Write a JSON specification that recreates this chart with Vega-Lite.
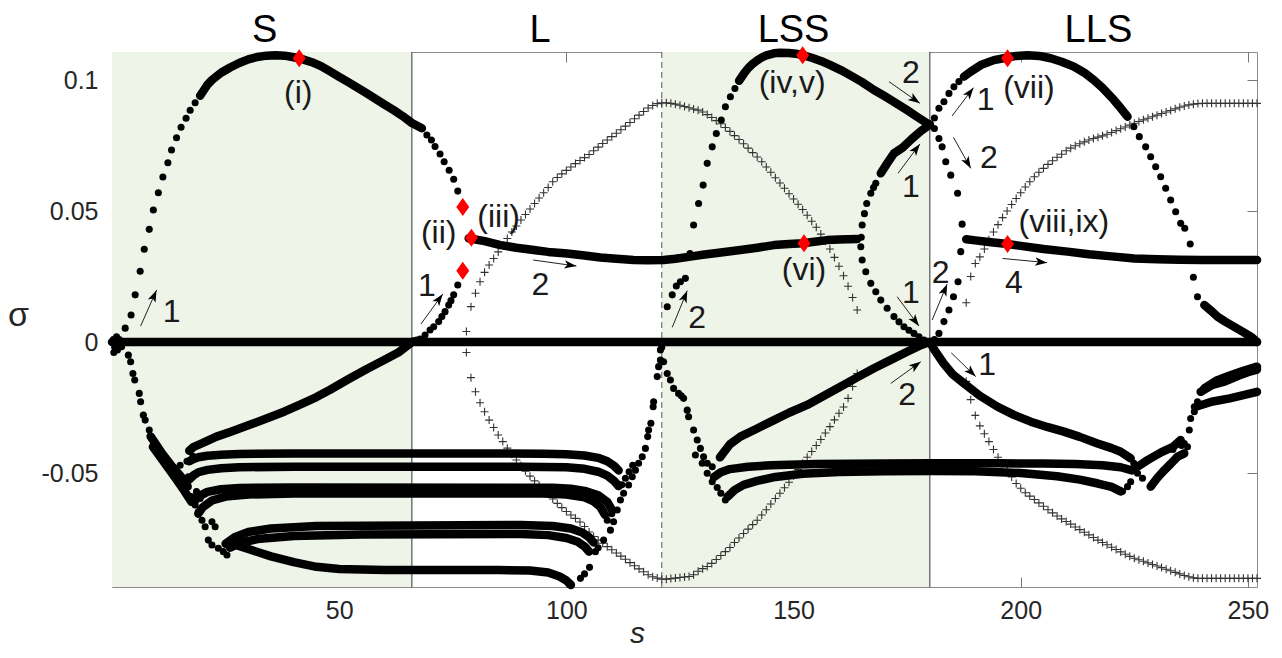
{
"$schema":"https://vega.github.io/schema/vega-lite/v6.json",
"width":1145,"height":535,
"autosize":{"type":"none"},
"padding":{"left":112,"top":52,"right":25,"bottom":71},
"background":"white",
"config":{"view":{"stroke":"#8a8a8a","strokeWidth":1},"font":"Liberation Sans",
"axis":{"grid":false,"domain":false,"tickColor":"#7a7a7a","tickSize":-10,"tickWidth":1,"labelFont":"Liberation Sans","labelFontSize":25,"labelColor":"#262626","labelFlush":false}},
"datasets":{
"bands":[{"a":0,"b":66},{"a":121,"b":180}],
"vsolid":[{"s":66},{"s":180}],
"vdash":[{"s":121}],
"cross":[
{"s":78,"sigma":0.004},{"s":79,"sigma":0.0135},{"s":80,"sigma":0.0186},{"s":81,"sigma":0.023},{"s":82,"sigma":0.0266},{"s":83,"sigma":0.0294},{"s":84,"sigma":0.0319},{"s":85,"sigma":0.0344},{"s":86,"sigma":0.0369},{"s":87,"sigma":0.0395},{"s":88,"sigma":0.042},{"s":89,"sigma":0.0443},{"s":90,"sigma":0.0466},{"s":91,"sigma":0.0487},{"s":92,"sigma":0.0508},{"s":93,"sigma":0.0529},{"s":94,"sigma":0.055},{"s":95,"sigma":0.057},{"s":96,"sigma":0.059},{"s":97,"sigma":0.0612},{"s":98,"sigma":0.0628},{"s":99,"sigma":0.0642},{"s":100,"sigma":0.0655},{"s":101,"sigma":0.0668},{"s":102,"sigma":0.0681},{"s":103,"sigma":0.0693},{"s":104,"sigma":0.0704},{"s":105,"sigma":0.0716},{"s":106,"sigma":0.073},{"s":107,"sigma":0.0744},{"s":108,"sigma":0.0758},{"s":109,"sigma":0.0771},{"s":110,"sigma":0.0784},{"s":111,"sigma":0.0797},{"s":112,"sigma":0.081},{"s":113,"sigma":0.0824},{"s":114,"sigma":0.0838},{"s":115,"sigma":0.0852},{"s":116,"sigma":0.0866},{"s":117,"sigma":0.088},{"s":118,"sigma":0.0893},{"s":119,"sigma":0.0903},{"s":120,"sigma":0.091},{"s":121,"sigma":0.0913},{"s":122,"sigma":0.0913},{"s":123,"sigma":0.0911},{"s":124,"sigma":0.0908},{"s":125,"sigma":0.0904},{"s":126,"sigma":0.0899},{"s":127,"sigma":0.0894},{"s":128,"sigma":0.0889},{"s":129,"sigma":0.0885},{"s":130,"sigma":0.0878},{"s":131,"sigma":0.0868},{"s":132,"sigma":0.0857},{"s":133,"sigma":0.0845},{"s":134,"sigma":0.0833},{"s":135,"sigma":0.0819},{"s":136,"sigma":0.0804},{"s":137,"sigma":0.0788},{"s":138,"sigma":0.0773},{"s":139,"sigma":0.0757},{"s":140,"sigma":0.074},{"s":141,"sigma":0.0723},{"s":142,"sigma":0.0706},{"s":143,"sigma":0.0688},{"s":144,"sigma":0.0668},{"s":145,"sigma":0.0648},{"s":146,"sigma":0.0627},{"s":147,"sigma":0.0607},{"s":148,"sigma":0.0587},{"s":149,"sigma":0.0566},{"s":150,"sigma":0.0546},{"s":151,"sigma":0.0526},{"s":152,"sigma":0.0506},{"s":153,"sigma":0.0484},{"s":154,"sigma":0.0461},{"s":155,"sigma":0.0438},{"s":156,"sigma":0.0412},{"s":157,"sigma":0.0385},{"s":158,"sigma":0.0355},{"s":159,"sigma":0.0323},{"s":160,"sigma":0.0289},{"s":161,"sigma":0.0253},{"s":162,"sigma":0.0213},{"s":163,"sigma":0.017},{"s":164,"sigma":0.0122},
{"s":78,"sigma":-0.004},{"s":79,"sigma":-0.0136},{"s":80,"sigma":-0.019},{"s":81,"sigma":-0.0232},{"s":82,"sigma":-0.0266},{"s":83,"sigma":-0.0298},{"s":84,"sigma":-0.0326},{"s":85,"sigma":-0.0355},{"s":86,"sigma":-0.038},{"s":87,"sigma":-0.0405},{"s":88,"sigma":-0.0428},{"s":89,"sigma":-0.045},{"s":90,"sigma":-0.0472},{"s":91,"sigma":-0.0493},{"s":92,"sigma":-0.0512},{"s":93,"sigma":-0.053},{"s":94,"sigma":-0.0547},{"s":95,"sigma":-0.0563},{"s":96,"sigma":-0.0578},{"s":97,"sigma":-0.0599},{"s":98,"sigma":-0.0616},{"s":99,"sigma":-0.0632},{"s":100,"sigma":-0.0647},{"s":101,"sigma":-0.066},{"s":102,"sigma":-0.0673},{"s":103,"sigma":-0.0687},{"s":104,"sigma":-0.0704},{"s":105,"sigma":-0.0725},{"s":106,"sigma":-0.0742},{"s":107,"sigma":-0.0756},{"s":108,"sigma":-0.0768},{"s":109,"sigma":-0.0781},{"s":110,"sigma":-0.0793},{"s":111,"sigma":-0.0805},{"s":112,"sigma":-0.0817},{"s":113,"sigma":-0.0829},{"s":114,"sigma":-0.0842},{"s":115,"sigma":-0.0854},{"s":116,"sigma":-0.0866},{"s":117,"sigma":-0.0877},{"s":118,"sigma":-0.0888},{"s":119,"sigma":-0.0896},{"s":120,"sigma":-0.0901},{"s":121,"sigma":-0.0905},{"s":122,"sigma":-0.0905},{"s":123,"sigma":-0.0903},{"s":124,"sigma":-0.0901},{"s":125,"sigma":-0.0899},{"s":126,"sigma":-0.0897},{"s":127,"sigma":-0.0895},{"s":128,"sigma":-0.0888},{"s":129,"sigma":-0.0875},{"s":130,"sigma":-0.0865},{"s":131,"sigma":-0.0857},{"s":132,"sigma":-0.0845},{"s":133,"sigma":-0.083},{"s":134,"sigma":-0.0815},{"s":135,"sigma":-0.08},{"s":136,"sigma":-0.0784},{"s":137,"sigma":-0.0765},{"s":138,"sigma":-0.0748},{"s":139,"sigma":-0.0731},{"s":140,"sigma":-0.0714},{"s":141,"sigma":-0.0697},{"s":142,"sigma":-0.068},{"s":143,"sigma":-0.066},{"s":144,"sigma":-0.064},{"s":145,"sigma":-0.0618},{"s":146,"sigma":-0.0597},{"s":147,"sigma":-0.0577},{"s":148,"sigma":-0.0556},{"s":149,"sigma":-0.0535},{"s":150,"sigma":-0.051},{"s":151,"sigma":-0.0487},{"s":152,"sigma":-0.0463},{"s":153,"sigma":-0.044},{"s":154,"sigma":-0.0418},{"s":155,"sigma":-0.0395},{"s":156,"sigma":-0.0372},{"s":157,"sigma":-0.0347},{"s":158,"sigma":-0.0323},{"s":159,"sigma":-0.0297},{"s":160,"sigma":-0.0272},{"s":161,"sigma":-0.0248},{"s":162,"sigma":-0.0215},{"s":163,"sigma":-0.017},{"s":164,"sigma":-0.012},
{"s":188,"sigma":0.015},{"s":189,"sigma":0.025},{"s":190,"sigma":0.03},{"s":191,"sigma":0.0325},{"s":192,"sigma":0.0355},{"s":193,"sigma":0.039},{"s":194,"sigma":0.042},{"s":195,"sigma":0.0448},{"s":196,"sigma":0.0475},{"s":197,"sigma":0.05},{"s":198,"sigma":0.0525},{"s":199,"sigma":0.0548},{"s":200,"sigma":0.057},{"s":201,"sigma":0.0592},{"s":202,"sigma":0.0612},{"s":203,"sigma":0.0631},{"s":204,"sigma":0.0648},{"s":205,"sigma":0.0663},{"s":206,"sigma":0.0678},{"s":207,"sigma":0.0692},{"s":208,"sigma":0.0705},{"s":209,"sigma":0.0717},{"s":210,"sigma":0.073},{"s":211,"sigma":0.074},{"s":212,"sigma":0.0749},{"s":213,"sigma":0.0757},{"s":214,"sigma":0.0764},{"s":215,"sigma":0.0771},{"s":216,"sigma":0.0777},{"s":217,"sigma":0.0782},{"s":218,"sigma":0.0787},{"s":219,"sigma":0.0793},{"s":220,"sigma":0.08},{"s":221,"sigma":0.0807},{"s":222,"sigma":0.0814},{"s":223,"sigma":0.0821},{"s":224,"sigma":0.0828},{"s":225,"sigma":0.0835},{"s":226,"sigma":0.0842},{"s":227,"sigma":0.0848},{"s":228,"sigma":0.0854},{"s":229,"sigma":0.086},{"s":230,"sigma":0.0866},{"s":231,"sigma":0.0872},{"s":232,"sigma":0.0878},{"s":233,"sigma":0.0884},{"s":234,"sigma":0.089},{"s":235,"sigma":0.0896},{"s":236,"sigma":0.0901},{"s":237,"sigma":0.0905},{"s":238,"sigma":0.0908},{"s":239,"sigma":0.091},{"s":240,"sigma":0.0911},{"s":241,"sigma":0.0911},{"s":242,"sigma":0.0911},{"s":243,"sigma":0.0911},{"s":244,"sigma":0.0911},{"s":245,"sigma":0.0911},{"s":246,"sigma":0.0911},{"s":247,"sigma":0.0911},{"s":248,"sigma":0.0911},{"s":249,"sigma":0.0911},{"s":250,"sigma":0.0911},{"s":251,"sigma":0.0911},{"s":252,"sigma":0.0911},
{"s":188,"sigma":-0.015},{"s":189,"sigma":-0.022},{"s":190,"sigma":-0.028},{"s":191,"sigma":-0.032},{"s":192,"sigma":-0.035},{"s":193,"sigma":-0.038},{"s":194,"sigma":-0.041},{"s":195,"sigma":-0.044},{"s":196,"sigma":-0.0465},{"s":197,"sigma":-0.049},{"s":198,"sigma":-0.0515},{"s":199,"sigma":-0.054},{"s":200,"sigma":-0.0558},{"s":201,"sigma":-0.0575},{"s":202,"sigma":-0.0588},{"s":203,"sigma":-0.0601},{"s":204,"sigma":-0.0614},{"s":205,"sigma":-0.0627},{"s":206,"sigma":-0.064},{"s":207,"sigma":-0.0652},{"s":208,"sigma":-0.0664},{"s":209,"sigma":-0.0675},{"s":210,"sigma":-0.0685},{"s":211,"sigma":-0.0695},{"s":212,"sigma":-0.0706},{"s":213,"sigma":-0.0716},{"s":214,"sigma":-0.0726},{"s":215,"sigma":-0.0736},{"s":216,"sigma":-0.0746},{"s":217,"sigma":-0.0756},{"s":218,"sigma":-0.0765},{"s":219,"sigma":-0.0774},{"s":220,"sigma":-0.0783},{"s":221,"sigma":-0.0792},{"s":222,"sigma":-0.0801},{"s":223,"sigma":-0.081},{"s":224,"sigma":-0.0818},{"s":225,"sigma":-0.0825},{"s":226,"sigma":-0.0831},{"s":227,"sigma":-0.0837},{"s":228,"sigma":-0.0843},{"s":229,"sigma":-0.0849},{"s":230,"sigma":-0.0855},{"s":231,"sigma":-0.0861},{"s":232,"sigma":-0.0867},{"s":233,"sigma":-0.0873},{"s":234,"sigma":-0.0879},{"s":235,"sigma":-0.0885},{"s":236,"sigma":-0.0891},{"s":237,"sigma":-0.0896},{"s":238,"sigma":-0.09},{"s":239,"sigma":-0.0902},{"s":240,"sigma":-0.0902},{"s":241,"sigma":-0.0902},{"s":242,"sigma":-0.0902},{"s":243,"sigma":-0.0902},{"s":244,"sigma":-0.0902},{"s":245,"sigma":-0.0902},{"s":246,"sigma":-0.0902},{"s":247,"sigma":-0.0902},{"s":248,"sigma":-0.0902},{"s":249,"sigma":-0.0902},{"s":250,"sigma":-0.0902},{"s":251,"sigma":-0.0902},{"s":252,"sigma":-0.0902}
],
"curves":[
{"id":"zero","s":0,"sigma":0},{"id":"zero","s":252,"sigma":0},
{"id":"A","s":19.4,"sigma":0.094},{"id":"A","s":21,"sigma":0.0982},{"id":"A","s":22,"sigma":0.1},{"id":"A","s":24,"sigma":0.1028},{"id":"A","s":26,"sigma":0.1048},{"id":"A","s":28,"sigma":0.1065},{"id":"A","s":30,"sigma":0.1079},{"id":"A","s":32,"sigma":0.1088},{"id":"A","s":34,"sigma":0.1093},{"id":"A","s":36,"sigma":0.1095},{"id":"A","s":38,"sigma":0.1093},{"id":"A","s":40,"sigma":0.1087},{"id":"A","s":42,"sigma":0.1079},{"id":"A","s":44,"sigma":0.1068},{"id":"A","s":46,"sigma":0.1053},{"id":"A","s":48,"sigma":0.1033},{"id":"A","s":50,"sigma":0.1012},{"id":"A","s":52,"sigma":0.0992},{"id":"A","s":54,"sigma":0.0971},{"id":"A","s":56,"sigma":0.095},{"id":"A","s":58,"sigma":0.0928},{"id":"A","s":60,"sigma":0.0906},{"id":"A","s":62,"sigma":0.0885},{"id":"A","s":64,"sigma":0.0862},{"id":"A","s":66,"sigma":0.0836},{"id":"A","s":68.2,"sigma":0.0816},
{"id":"Bn","s":17,"sigma":-0.0415},{"id":"Bn","s":18,"sigma":-0.04},{"id":"Bn","s":20,"sigma":-0.0385},{"id":"Bn","s":23,"sigma":-0.0361},{"id":"Bn","s":26,"sigma":-0.0343},{"id":"Bn","s":30,"sigma":-0.0318},{"id":"Bn","s":34,"sigma":-0.0292},{"id":"Bn","s":38,"sigma":-0.0265},{"id":"Bn","s":42,"sigma":-0.0234},{"id":"Bn","s":45,"sigma":-0.021},{"id":"Bn","s":48,"sigma":-0.0182},{"id":"Bn","s":52,"sigma":-0.0142},{"id":"Bn","s":56,"sigma":-0.0104},{"id":"Bn","s":60,"sigma":-0.0068},{"id":"Bn","s":63,"sigma":-0.004},{"id":"Bn","s":66,"sigma":0},{"id":"Bn","s":67,"sigma":0.0005},
{"id":"fA","s":8.5,"sigma":-0.036},{"id":"fA","s":11,"sigma":-0.0425},{"id":"fA","s":13,"sigma":-0.047},{"id":"fA","s":15,"sigma":-0.051},{"id":"fA","s":16.5,"sigma":-0.0545},
{"id":"fB","s":9,"sigma":-0.04},{"id":"fB","s":11.5,"sigma":-0.046},{"id":"fB","s":14,"sigma":-0.052},{"id":"fB","s":16,"sigma":-0.057},{"id":"fB","s":17.5,"sigma":-0.061},
{"id":"c1","s":17,"sigma":-0.0455},{"id":"c1","s":18,"sigma":-0.0446},{"id":"c1","s":19,"sigma":-0.044},{"id":"c1","s":21,"sigma":-0.0434},{"id":"c1","s":24,"sigma":-0.043},{"id":"c1","s":28,"sigma":-0.0427},{"id":"c1","s":40,"sigma":-0.0425},{"id":"c1","s":80,"sigma":-0.0425},{"id":"c1","s":95,"sigma":-0.0426},{"id":"c1","s":100,"sigma":-0.0428},{"id":"c1","s":104,"sigma":-0.0433},{"id":"c1","s":107,"sigma":-0.0442},{"id":"c1","s":109,"sigma":-0.0455},{"id":"c1","s":110.5,"sigma":-0.0472},{"id":"c1","s":111.5,"sigma":-0.049},
{"id":"c2","s":17,"sigma":-0.0525},{"id":"c2","s":18,"sigma":-0.0508},{"id":"c2","s":19,"sigma":-0.0497},{"id":"c2","s":21,"sigma":-0.0488},{"id":"c2","s":24,"sigma":-0.0482},{"id":"c2","s":28,"sigma":-0.0478},{"id":"c2","s":40,"sigma":-0.0476},{"id":"c2","s":90,"sigma":-0.0476},{"id":"c2","s":100,"sigma":-0.0478},{"id":"c2","s":104,"sigma":-0.0484},{"id":"c2","s":107,"sigma":-0.0495},{"id":"c2","s":109,"sigma":-0.051},{"id":"c2","s":110.5,"sigma":-0.053},{"id":"c2","s":111.5,"sigma":-0.055},
{"id":"c3","s":18,"sigma":-0.061},{"id":"c3","s":19,"sigma":-0.059},{"id":"c3","s":21,"sigma":-0.0572},{"id":"c3","s":24,"sigma":-0.0562},{"id":"c3","s":28,"sigma":-0.0557},{"id":"c3","s":40,"sigma":-0.0555},{"id":"c3","s":97,"sigma":-0.0556},{"id":"c3","s":101,"sigma":-0.056},{"id":"c3","s":104,"sigma":-0.0568},{"id":"c3","s":107,"sigma":-0.0585},{"id":"c3","s":109,"sigma":-0.061},{"id":"c3","s":110,"sigma":-0.064},
{"id":"c4","s":19,"sigma":-0.0655},{"id":"c4","s":20,"sigma":-0.063},{"id":"c4","s":22,"sigma":-0.0605},{"id":"c4","s":25,"sigma":-0.059},{"id":"c4","s":30,"sigma":-0.0582},{"id":"c4","s":40,"sigma":-0.0578},{"id":"c4","s":95,"sigma":-0.0578},{"id":"c4","s":100,"sigma":-0.0582},{"id":"c4","s":104,"sigma":-0.0593},{"id":"c4","s":106,"sigma":-0.0608},{"id":"c4","s":107.5,"sigma":-0.063},{"id":"c4","s":108.5,"sigma":-0.066},
{"id":"c5","s":25,"sigma":-0.077},{"id":"c5","s":27,"sigma":-0.0745},{"id":"c5","s":30,"sigma":-0.0725},{"id":"c5","s":35,"sigma":-0.0712},{"id":"c5","s":45,"sigma":-0.0702},{"id":"c5","s":90,"sigma":-0.0698},{"id":"c5","s":97,"sigma":-0.0702},{"id":"c5","s":101,"sigma":-0.0712},{"id":"c5","s":103.5,"sigma":-0.0727},{"id":"c5","s":105,"sigma":-0.0745},{"id":"c5","s":106,"sigma":-0.0765},
{"id":"c6","s":26,"sigma":-0.0785},{"id":"c6","s":28,"sigma":-0.0768},{"id":"c6","s":32,"sigma":-0.0752},{"id":"c6","s":40,"sigma":-0.074},{"id":"c6","s":55,"sigma":-0.0735},{"id":"c6","s":90,"sigma":-0.0733},{"id":"c6","s":96,"sigma":-0.0737},{"id":"c6","s":100,"sigma":-0.0748},{"id":"c6","s":102.5,"sigma":-0.0762},{"id":"c6","s":104,"sigma":-0.078},{"id":"c6","s":105,"sigma":-0.08},
{"id":"c7","s":26,"sigma":-0.0768},{"id":"c7","s":30,"sigma":-0.079},{"id":"c7","s":35,"sigma":-0.0818},{"id":"c7","s":40,"sigma":-0.084},{"id":"c7","s":45,"sigma":-0.0858},{"id":"c7","s":50,"sigma":-0.0866},{"id":"c7","s":60,"sigma":-0.087},{"id":"c7","s":85,"sigma":-0.087},{"id":"c7","s":92,"sigma":-0.0872},{"id":"c7","s":96,"sigma":-0.088},{"id":"c7","s":98.5,"sigma":-0.0895},{"id":"c7","s":100,"sigma":-0.091},{"id":"c7","s":101,"sigma":-0.0927},
{"id":"iii","s":78.5,"sigma":0.0396},{"id":"iii","s":82,"sigma":0.0385},{"id":"iii","s":85.5,"sigma":0.037},{"id":"iii","s":89,"sigma":0.036},{"id":"iii","s":92.8,"sigma":0.0351},{"id":"iii","s":96,"sigma":0.0344},{"id":"iii","s":100.2,"sigma":0.0338},{"id":"iii","s":104,"sigma":0.033},{"id":"iii","s":107.5,"sigma":0.0323},{"id":"iii","s":111,"sigma":0.0318},{"id":"iii","s":114.8,"sigma":0.0313},{"id":"iii","s":118,"sigma":0.0312},{"id":"iii","s":121.4,"sigma":0.0313},{"id":"iii","s":124,"sigma":0.0318},{"id":"iii","s":127.3,"sigma":0.0326},{"id":"iii","s":130,"sigma":0.0333},{"id":"iii","s":134,"sigma":0.0342},{"id":"iii","s":138.3,"sigma":0.0351},{"id":"iii","s":142,"sigma":0.036},{"id":"iii","s":145.7,"sigma":0.037},{"id":"iii","s":149,"sigma":0.0374},{"id":"iii","s":152,"sigma":0.0377},{"id":"iii","s":155,"sigma":0.0384},{"id":"iii","s":157.4,"sigma":0.0389},{"id":"iii","s":160,"sigma":0.0391},{"id":"iii","s":164,"sigma":0.0393},
{"id":"A2","s":138,"sigma":0.0997},{"id":"A2","s":139.1,"sigma":0.1025},{"id":"A2","s":140,"sigma":0.1045},{"id":"A2","s":141,"sigma":0.1062},{"id":"A2","s":142,"sigma":0.1075},{"id":"A2","s":143,"sigma":0.1086},{"id":"A2","s":144,"sigma":0.1094},{"id":"A2","s":145.7,"sigma":0.1102},{"id":"A2","s":147,"sigma":0.1104},{"id":"A2","s":149,"sigma":0.1103},{"id":"A2","s":151,"sigma":0.1099},{"id":"A2","s":152,"sigma":0.1095},{"id":"A2","s":154,"sigma":0.1085},{"id":"A2","s":156,"sigma":0.1073},{"id":"A2","s":158,"sigma":0.1058},{"id":"A2","s":160.4,"sigma":0.1038},{"id":"A2","s":163,"sigma":0.1013},{"id":"A2","s":165,"sigma":0.0993},{"id":"A2","s":167.7,"sigma":0.0962},{"id":"A2","s":170,"sigma":0.0939},{"id":"A2","s":172,"sigma":0.0918},{"id":"A2","s":175,"sigma":0.0885},{"id":"A2","s":177,"sigma":0.0862},{"id":"A2","s":179.4,"sigma":0.0835},{"id":"A2","s":180,"sigma":0.083},
{"id":"Cup","s":169.2,"sigma":0.0644},{"id":"Cup","s":170.6,"sigma":0.0682},{"id":"Cup","s":172.1,"sigma":0.072},{"id":"Cup","s":174,"sigma":0.0742},{"id":"Cup","s":176,"sigma":0.0775},{"id":"Cup","s":178,"sigma":0.0805},{"id":"Cup","s":180,"sigma":0.083},
{"id":"Rn","s":133.8,"sigma":-0.044},{"id":"Rn","s":136,"sigma":-0.039},{"id":"Rn","s":138.3,"sigma":-0.0361},{"id":"Rn","s":142,"sigma":-0.033},{"id":"Rn","s":145.7,"sigma":-0.0298},{"id":"Rn","s":149,"sigma":-0.027},{"id":"Rn","s":153,"sigma":-0.024},{"id":"Rn","s":156.7,"sigma":-0.0205},{"id":"Rn","s":160.4,"sigma":-0.017},{"id":"Rn","s":164,"sigma":-0.0135},{"id":"Rn","s":167.7,"sigma":-0.01},{"id":"Rn","s":171.4,"sigma":-0.0068},{"id":"Rn","s":175,"sigma":-0.0037},{"id":"Rn","s":178,"sigma":-0.0012},{"id":"Rn","s":180,"sigma":0},
{"id":"Ub","s":132.5,"sigma":-0.0515},{"id":"Ub","s":134,"sigma":-0.0497},{"id":"Ub","s":136,"sigma":-0.0485},{"id":"Ub","s":140,"sigma":-0.0476},{"id":"Ub","s":145,"sigma":-0.047},{"id":"Ub","s":155,"sigma":-0.0466},{"id":"Ub","s":170,"sigma":-0.0464},{"id":"Ub","s":180,"sigma":-0.0463},{"id":"Ub","s":195,"sigma":-0.0463},{"id":"Ub","s":205,"sigma":-0.0464},{"id":"Ub","s":212,"sigma":-0.0466},{"id":"Ub","s":218,"sigma":-0.047},{"id":"Ub","s":222,"sigma":-0.0478},{"id":"Ub","s":224.5,"sigma":-0.049},
{"id":"Lb","s":135.5,"sigma":-0.059},{"id":"Lb","s":137,"sigma":-0.0565},{"id":"Lb","s":139,"sigma":-0.0545},{"id":"Lb","s":142,"sigma":-0.053},{"id":"Lb","s":146,"sigma":-0.0515},{"id":"Lb","s":152,"sigma":-0.0503},{"id":"Lb","s":160,"sigma":-0.0496},{"id":"Lb","s":170,"sigma":-0.0493},{"id":"Lb","s":180,"sigma":-0.0492},{"id":"Lb","s":190,"sigma":-0.0493},{"id":"Lb","s":200,"sigma":-0.05},{"id":"Lb","s":208,"sigma":-0.0512},{"id":"Lb","s":213,"sigma":-0.0525},{"id":"Lb","s":217,"sigma":-0.054},{"id":"Lb","s":220,"sigma":-0.0553},{"id":"Lb","s":222,"sigma":-0.057},
{"id":"Dn","s":180,"sigma":0},{"id":"Dn","s":181,"sigma":-0.003},{"id":"Dn","s":183,"sigma":-0.0081},{"id":"Dn","s":185,"sigma":-0.0123},{"id":"Dn","s":187.5,"sigma":-0.0158},{"id":"Dn","s":191,"sigma":-0.0205},{"id":"Dn","s":194.9,"sigma":-0.0247},{"id":"Dn","s":198.5,"sigma":-0.0278},{"id":"Dn","s":202.2,"sigma":-0.0304},{"id":"Dn","s":206,"sigma":-0.0325},{"id":"Dn","s":209.5,"sigma":-0.0342},{"id":"Dn","s":213,"sigma":-0.0362},{"id":"Dn","s":216.9,"sigma":-0.0387},{"id":"Dn","s":220,"sigma":-0.0405},{"id":"Dn","s":222,"sigma":-0.0419},{"id":"Dn","s":224.2,"sigma":-0.0444},
{"id":"A3","s":187.5,"sigma":0.1013},{"id":"A3","s":189,"sigma":0.1032},{"id":"A3","s":191.2,"sigma":0.1057},{"id":"A3","s":194.1,"sigma":0.1076},{"id":"A3","s":197.1,"sigma":0.1086},{"id":"A3","s":199,"sigma":0.1092},{"id":"A3","s":201.5,"sigma":0.1095},{"id":"A3","s":204,"sigma":0.1092},{"id":"A3","s":206.6,"sigma":0.1083},{"id":"A3","s":209,"sigma":0.107},{"id":"A3","s":211.7,"sigma":0.1051},{"id":"A3","s":214,"sigma":0.1028},{"id":"A3","s":216.1,"sigma":0.1},{"id":"A3","s":218,"sigma":0.097},{"id":"A3","s":220.5,"sigma":0.0924},{"id":"A3","s":222,"sigma":0.0893},{"id":"A3","s":223.5,"sigma":0.086},
{"id":"Tl","s":240.4,"sigma":0.0141},{"id":"Tl","s":242,"sigma":0.0118},{"id":"Tl","s":243.3,"sigma":0.0097},{"id":"Tl","s":245,"sigma":0.0078},{"id":"Tl","s":247,"sigma":0.0058},{"id":"Tl","s":249,"sigma":0.0038},{"id":"Tl","s":250.7,"sigma":0.002},{"id":"Tl","s":252,"sigma":0},
{"id":"viii","s":188,"sigma":0.0392},{"id":"viii","s":190,"sigma":0.0388},{"id":"viii","s":193,"sigma":0.0382},{"id":"viii","s":197.1,"sigma":0.0374},{"id":"viii","s":200,"sigma":0.0367},{"id":"viii","s":205,"sigma":0.0355},{"id":"viii","s":210.3,"sigma":0.0345},{"id":"viii","s":215,"sigma":0.0335},{"id":"viii","s":220,"sigma":0.0327},{"id":"viii","s":225,"sigma":0.0319},{"id":"viii","s":230,"sigma":0.0316},{"id":"viii","s":235,"sigma":0.0314},{"id":"viii","s":240,"sigma":0.0313},{"id":"viii","s":252,"sigma":0.0313},
{"id":"R2","s":228.6,"sigma":-0.0552},{"id":"R2","s":230,"sigma":-0.052},{"id":"R2","s":231.6,"sigma":-0.0489},{"id":"R2","s":233,"sigma":-0.0465},{"id":"R2","s":234.5,"sigma":-0.0438},{"id":"R2","s":236,"sigma":-0.0425},
{"id":"R3","s":225.7,"sigma":-0.0476},{"id":"R3","s":228,"sigma":-0.045},{"id":"R3","s":231,"sigma":-0.042},{"id":"R3","s":233.5,"sigma":-0.04},{"id":"R3","s":235.2,"sigma":-0.0374},
{"id":"E1","s":239.6,"sigma":-0.019},{"id":"E1","s":242,"sigma":-0.0165},{"id":"E1","s":245,"sigma":-0.015},{"id":"E1","s":248,"sigma":-0.0128},{"id":"E1","s":250,"sigma":-0.0115},{"id":"E1","s":252,"sigma":-0.0105},
{"id":"E2","s":240.4,"sigma":-0.0177},{"id":"E2","s":243,"sigma":-0.0148},{"id":"E2","s":246,"sigma":-0.0128},{"id":"E2","s":249,"sigma":-0.011},{"id":"E2","s":252,"sigma":-0.0094},
{"id":"E3","s":238.9,"sigma":-0.0245},{"id":"E3","s":242,"sigma":-0.0228},{"id":"E3","s":246,"sigma":-0.0215},{"id":"E3","s":249,"sigma":-0.0203},{"id":"E3","s":252,"sigma":-0.019}
],
"dots":[
{"s":0.3,"sigma":0.001},{"s":0.6,"sigma":-0.002},{"s":1.0,"sigma":0.002},{"s":1.2,"sigma":-0.003},{"s":1.6,"sigma":0.001},{"s":0.4,"sigma":-0.004},{"s":2.0,"sigma":-0.001},
{"s":2.9,"sigma":0.0053},{"s":4.2,"sigma":0.0103},{"s":5.1,"sigma":0.018},{"s":6.2,"sigma":0.027},{"s":7.1,"sigma":0.0354},{"s":8.2,"sigma":0.043},{"s":9.1,"sigma":0.0504},{"s":10.2,"sigma":0.057},{"s":11.2,"sigma":0.063},{"s":12.3,"sigma":0.0684},{"s":13.1,"sigma":0.0733},{"s":14.2,"sigma":0.078},{"s":15.2,"sigma":0.082},{"s":16.3,"sigma":0.0854},{"s":17.2,"sigma":0.0885},{"s":18.3,"sigma":0.0913},
{"s":69.3,"sigma":0.079},{"s":70.3,"sigma":0.0771},{"s":71.1,"sigma":0.0746},{"s":72.2,"sigma":0.0718},{"s":73.1,"sigma":0.0688},{"s":74.2,"sigma":0.0656},{"s":75.2,"sigma":0.0621},{"s":76.1,"sigma":0.0576},
{"s":67.8,"sigma":0.0011},{"s":68.9,"sigma":0.0027},{"s":70,"sigma":0.0046},{"s":70.8,"sigma":0.0058},{"s":71.9,"sigma":0.0078},{"s":72.6,"sigma":0.0097},{"s":73.3,"sigma":0.0116},{"s":74.1,"sigma":0.0141},{"s":74.6,"sigma":0.0158},{"s":75.2,"sigma":0.018},{"s":76.1,"sigma":0.0218},
{"s":2.1,"sigma":-0.0018},{"s":3.6,"sigma":-0.005},{"s":4.1,"sigma":-0.0075},{"s":4.6,"sigma":-0.012},{"s":5,"sigma":-0.0145},{"s":6,"sigma":-0.0196},{"s":6.3,"sigma":-0.0228},{"s":6.9,"sigma":-0.0279},{"s":7.3,"sigma":-0.0298},{"s":8.2,"sigma":-0.0336},{"s":8.5,"sigma":-0.0361},{"s":9.1,"sigma":-0.0393},
{"s":16.8,"sigma":-0.0552},{"s":17.5,"sigma":-0.059},{"s":18.3,"sigma":-0.0622},{"s":19,"sigma":-0.0648},{"s":19.8,"sigma":-0.068},{"s":20.5,"sigma":-0.0705},{"s":21.2,"sigma":-0.0756},{"s":22,"sigma":-0.0775},{"s":23.4,"sigma":-0.0787},{"s":24.5,"sigma":-0.08},{"s":25.3,"sigma":-0.0813},
{"s":15,"sigma":-0.047},{"s":16.8,"sigma":-0.0514},{"s":18.6,"sigma":-0.0571},{"s":19.4,"sigma":-0.0597},{"s":22,"sigma":-0.0686},{"s":22.7,"sigma":-0.0705},{"s":17.8,"sigma":-0.0436},{"s":16.5,"sigma":-0.0455},
{"s":100.9,"sigma":-0.0927},{"s":103.1,"sigma":-0.0902},{"s":105.1,"sigma":-0.086},{"s":106.4,"sigma":-0.08},{"s":108.2,"sigma":-0.0756},{"s":109.7,"sigma":-0.0718},{"s":110.4,"sigma":-0.0686},{"s":111.2,"sigma":-0.0641},{"s":111.9,"sigma":-0.0603},{"s":112.6,"sigma":-0.0577},{"s":113.7,"sigma":-0.0546},{"s":114.5,"sigma":-0.0514},{"s":115.2,"sigma":-0.0489},{"s":115.9,"sigma":-0.0463},{"s":116.7,"sigma":-0.0438},{"s":117.4,"sigma":-0.0406},{"s":117.9,"sigma":-0.0361},{"s":118.1,"sigma":-0.0336},{"s":119.1,"sigma":-0.0247},{"s":119.2,"sigma":-0.0228},{"s":120,"sigma":-0.0132},{"s":120.3,"sigma":-0.0094},{"s":120.7,"sigma":-0.0069},
{"s":112.2,"sigma":-0.0545},{"s":113,"sigma":-0.052},{"s":113.8,"sigma":-0.0495},{"s":114.6,"sigma":-0.047},{"s":109,"sigma":-0.068},{"s":110,"sigma":-0.0655},{"s":107,"sigma":-0.0785},{"s":104,"sigma":-0.0885},{"s":118.6,"sigma":-0.031},{"s":120.7,"sigma":-0.003},{"s":121,"sigma":-0.002},
{"s":121.4,"sigma":-0.0075},{"s":122.2,"sigma":-0.012},{"s":122.9,"sigma":-0.0145},{"s":123.6,"sigma":-0.0177},{"s":124.7,"sigma":-0.0196},{"s":125.3,"sigma":-0.0205},{"s":125.8,"sigma":-0.0215},{"s":126.6,"sigma":-0.026},{"s":126.9,"sigma":-0.0285},{"s":128,"sigma":-0.0336},{"s":128.8,"sigma":-0.0374},{"s":129.5,"sigma":-0.0406},{"s":130.2,"sigma":-0.0438},{"s":131,"sigma":-0.0463},{"s":132.1,"sigma":-0.0476},{"s":128.4,"sigma":-0.0431},{"s":129.9,"sigma":-0.0463},{"s":131,"sigma":-0.0501},{"s":132.1,"sigma":-0.0533},{"s":134,"sigma":-0.0577},{"s":135,"sigma":-0.0603},{"s":133.2,"sigma":-0.0555},
{"s":122.2,"sigma":0.0135},{"s":123.3,"sigma":0.018},{"s":124.2,"sigma":0.0214},{"s":125.1,"sigma":0.023},{"s":126.2,"sigma":0.0243},
{"s":127.2,"sigma":0.0338},{"s":128,"sigma":0.0447},{"s":129.1,"sigma":0.0529},{"s":130.1,"sigma":0.0599},{"s":131,"sigma":0.0682},{"s":132.1,"sigma":0.0745},{"s":133,"sigma":0.0796},{"s":134.1,"sigma":0.0847},{"s":135,"sigma":0.0898},{"s":136.1,"sigma":0.0936},{"s":137.1,"sigma":0.0968},
{"s":168.1,"sigma":0.0606},{"s":167.6,"sigma":0.059},{"s":167,"sigma":0.0568},{"s":166.1,"sigma":0.0529},{"s":165.6,"sigma":0.049},{"s":165.1,"sigma":0.0447},{"s":164.9,"sigma":0.04},{"s":164.8,"sigma":0.0364},{"s":165.1,"sigma":0.0313},{"s":165.9,"sigma":0.0268},{"s":167,"sigma":0.0224},{"s":168.1,"sigma":0.0192},{"s":169.2,"sigma":0.016},{"s":170.6,"sigma":0.0129},{"s":172.1,"sigma":0.0097},{"s":173.2,"sigma":0.0077},{"s":174.3,"sigma":0.0058},{"s":175.4,"sigma":0.0045},{"s":176.5,"sigma":0.0033},{"s":177.6,"sigma":0.002},{"s":178.7,"sigma":0.0008},
{"s":181,"sigma":0.0815},{"s":182,"sigma":0.0777},{"s":182.7,"sigma":0.0745},{"s":183.5,"sigma":0.0688},{"s":184.6,"sigma":0.0637},{"s":186.1,"sigma":0.0568},{"s":187.1,"sigma":0.045},{"s":186.8,"sigma":0.0345},{"s":186.2,"sigma":0.023},{"s":185.2,"sigma":0.0173},{"s":184.2,"sigma":0.0122},{"s":183.1,"sigma":0.0078},{"s":182,"sigma":0.0033},{"s":181,"sigma":0.001},
{"s":181,"sigma":0.0855},{"s":182,"sigma":0.0892},{"s":183.1,"sigma":0.0917},{"s":184.2,"sigma":0.0949},{"s":185.3,"sigma":0.0974},{"s":186.4,"sigma":0.0994},
{"s":224.9,"sigma":0.0822},{"s":226.1,"sigma":0.0784},{"s":227.5,"sigma":0.0745},{"s":228.6,"sigma":0.0707},{"s":229.7,"sigma":0.0669},{"s":230.8,"sigma":0.0631},{"s":231.9,"sigma":0.0587},{"s":233,"sigma":0.0542},{"s":234.1,"sigma":0.0497},{"s":235.2,"sigma":0.0453},{"s":236.1,"sigma":0.0434},{"s":237.3,"sigma":0.0374},{"s":238,"sigma":0.0247},{"s":238.9,"sigma":0.0173},
{"s":224.9,"sigma":-0.0463},{"s":225.7,"sigma":-0.0501},{"s":226.8,"sigma":-0.052},{"s":222.4,"sigma":-0.057},{"s":223.5,"sigma":-0.0552},{"s":224.2,"sigma":-0.0533},{"s":236.7,"sigma":-0.04},{"s":237.1,"sigma":-0.0336},{"s":237.4,"sigma":-0.0292},{"s":238.2,"sigma":-0.0266},{"s":238.2,"sigma":-0.0247},{"s":238.9,"sigma":-0.0228},{"s":236,"sigma":-0.0387},{"s":233.5,"sigma":-0.041},{"s":235.4,"sigma":-0.0395}
],
"marks":[{"s":41.2,"sigma":0.1083},{"s":77.2,"sigma":0.0515},{"s":79.1,"sigma":0.0398},{"s":77.2,"sigma":0.0272},{"s":152,"sigma":0.1095},{"s":152.3,"sigma":0.0377},{"s":197.1,"sigma":0.1083},{"s":197.1,"sigma":0.0374}],
"arrows":[
{"s":6.3,"sigma":0.0061,"s2":9.8,"sigma2":0.0198},
{"s":68,"sigma":0.0069,"s2":72.8,"sigma2":0.0183},
{"s":92.7,"sigma":0.0313,"s2":102.2,"sigma2":0.029},
{"s":123.3,"sigma":0.0056,"s2":126.6,"sigma2":0.0196},
{"s":171,"sigma":0.0994,"s2":177.8,"sigma2":0.0911},
{"s":173,"sigma":0.0644,"s2":177.8,"sigma2":0.0756},
{"s":172.8,"sigma":0.0173,"s2":177.6,"sigma2":0.0061},
{"s":171.4,"sigma":-0.0158,"s2":178,"sigma2":-0.0075},
{"s":180.5,"sigma":0.0084,"s2":183.8,"sigma2":0.0221},
{"s":184.9,"sigma":0.0863,"s2":189.6,"sigma2":0.0971},
{"s":185.2,"sigma":0.0781,"s2":189,"sigma2":0.0663},
{"s":196,"sigma":0.0319,"s2":205.8,"sigma2":0.0303},
{"s":184.7,"sigma":-0.0041,"s2":190.1,"sigma2":-0.0132}
],
"titles":[{"s":33.6,"sigma":0.1188,"t":"S"},{"s":94.2,"sigma":0.1188,"t":"L"},{"s":150,"sigma":0.1188,"t":"LSS"},{"s":217.1,"sigma":0.1188,"t":"LLS"}],
"romans":[{"s":41,"sigma":0.0949,"t":"(i)"},{"s":71.9,"sigma":0.0415,"t":"(ii)"},{"s":85.1,"sigma":0.0478,"t":"(iii)"},{"s":149.7,"sigma":0.0987,"t":"(iv,v)"},{"s":152.3,"sigma":0.0275,"t":"(vi)"},{"s":201.8,"sigma":0.0969,"t":"(vii)"},{"s":209.5,"sigma":0.0459,"t":"(viii,ix)"}],
"nums":[{"s":13.1,"sigma":0.0116,"t":"1"},{"s":69.3,"sigma":0.0214,"t":"1"},{"s":94.3,"sigma":0.0218,"t":"2"},{"s":128.8,"sigma":0.009,"t":"2"},{"s":175.8,"sigma":0.1026,"t":"2"},{"s":175.8,"sigma":0.0593,"t":"1"},{"s":175.8,"sigma":0.0186,"t":"1"},{"s":175,"sigma":-0.0202,"t":"2"},{"s":192.6,"sigma":-0.0088,"t":"1"},{"s":182.4,"sigma":0.0262,"t":"2"},{"s":192.3,"sigma":0.0924,"t":"1"},{"s":193,"sigma":0.0701,"t":"2"},{"s":198.5,"sigma":0.0224,"t":"4"}]
},
"resolve":{"axis":{"x":"independent","y":"independent"}},
"layer":[
{"data":{"name":"bands"},"mark":{"type":"rect","color":"#eef4e8"},
 "encoding":{"x":{"field":"a","type":"quantitative","scale":{"domain":[0,252],"nice":false,"zero":false},
   "axis":{"orient":"bottom","values":[50,100,150,200,250],"labelPadding":21,"title":"s","titleFont":"Liberation Sans","titleFontStyle":"italic","titleFontSize":30,"titleFontWeight":"normal","titleColor":"#262626","titleX":525,"titleY":46,"titleAlign":"center","titleBaseline":"middle"}},
  "x2":{"field":"b"}}},
{"data":{"name":"vsolid"},"mark":{"type":"rule","color":"#333333","strokeWidth":1},
 "encoding":{"x":{"field":"s","type":"quantitative","scale":{"domain":[0,252],"nice":false,"zero":false},"axis":null}}},
{"data":{"name":"vdash"},"mark":{"type":"rule","color":"#555555","strokeWidth":1,"strokeDash":[6,4]},
 "encoding":{"x":{"field":"s","type":"quantitative","scale":{"domain":[0,252],"nice":false,"zero":false},"axis":null}}},
{"data":{"name":"cross"},"mark":{"type":"point","shape":"M-1,0L1,0M0,-1L0,1","filled":false,"size":64,"strokeWidth":1.1,"opacity":1,"color":"#333333"},
 "encoding":{"x":{"field":"s","type":"quantitative","scale":{"domain":[0,252],"nice":false,"zero":false},"axis":null},
  "y":{"field":"sigma","type":"quantitative","scale":{"domain":[-0.0935,0.1107],"nice":false,"zero":false},"axis":null}}},
{"data":{"name":"curves"},"mark":{"type":"line","color":"#000000","strokeWidth":8.5,"strokeCap":"round","strokeJoin":"round"},
 "encoding":{"x":{"field":"s","type":"quantitative","scale":{"domain":[0,252],"nice":false,"zero":false},"axis":null},
  "y":{"field":"sigma","type":"quantitative","scale":{"domain":[-0.0935,0.1107],"nice":false,"zero":false},
   "axis":{"orient":"left","values":[-0.05,0,0.05,0.1],"labelPadding":24,"labelExpr":"datum.value < -0.01 ? '-0.05' : datum.value > 0.07 ? '0.1' : datum.value > 0.01 ? '0.05' : '0'","title":"σ","titleFont":"Liberation Sans","titleAngle":0,"titleFontSize":34,"titleFontWeight":"normal","titleColor":"#262626","titleX":-94,"titleY":263,"titleAlign":"center","titleBaseline":"middle"}},
  "detail":{"field":"id","type":"nominal"}}},
{"data":{"name":"dots"},"mark":{"type":"point","shape":"circle","filled":true,"size":50,"opacity":1,"color":"#000000"},
 "encoding":{"x":{"field":"s","type":"quantitative","scale":{"domain":[0,252],"nice":false,"zero":false},"axis":null},
  "y":{"field":"sigma","type":"quantitative","scale":{"domain":[-0.0935,0.1107],"nice":false,"zero":false},"axis":null}}},
{"data":{"name":"arrows"},"mark":{"type":"rule","color":"#222222","strokeWidth":1},
 "encoding":{"x":{"field":"s","type":"quantitative","scale":{"domain":[0,252],"nice":false,"zero":false},"axis":null},
  "y":{"field":"sigma","type":"quantitative","scale":{"domain":[-0.0935,0.1107],"nice":false,"zero":false},"axis":null},
  "x2":{"field":"s2"},"y2":{"field":"sigma2"}}},
{"data":{"name":"arrows"},"transform":[{"calculate":"atan2(-(datum.sigma2-datum.sigma)*2620, (datum.s2-datum.s)*4.5437)*180/PI","as":"ang"}],
 "mark":{"type":"point","shape":"M0,0L-2,-0.7L-1.5,0L-2,0.7Z","filled":true,"size":144,"opacity":1,"color":"#000000","strokeWidth":0},
 "encoding":{"x":{"field":"s2","type":"quantitative","scale":{"domain":[0,252],"nice":false,"zero":false},"axis":null},
  "y":{"field":"sigma2","type":"quantitative","scale":{"domain":[-0.0935,0.1107],"nice":false,"zero":false},"axis":null},
  "angle":{"field":"ang","type":"quantitative","scale":null}}},
{"data":{"name":"marks"},"mark":{"type":"point","shape":"M0,-1L0.72,0L0,1L-0.72,0Z","filled":true,"size":324,"opacity":1,"color":"#ff0000","strokeWidth":0},
 "encoding":{"x":{"field":"s","type":"quantitative","scale":{"domain":[0,252],"nice":false,"zero":false},
   "axis":{"orient":"top","values":[50,100,150,200,250],"labels":false,"title":null}},
  "y":{"field":"sigma","type":"quantitative","scale":{"domain":[-0.0935,0.1107],"nice":false,"zero":false},
   "axis":{"orient":"right","values":[-0.05,0,0.05,0.1],"labels":false,"title":null}}}},
{"data":{"name":"titles"},"mark":{"type":"text","font":"Liberation Sans","fontSize":38,"color":"#000000","align":"center","baseline":"middle"},
 "encoding":{"x":{"field":"s","type":"quantitative","scale":{"domain":[0,252],"nice":false,"zero":false},"axis":null},
  "y":{"field":"sigma","type":"quantitative","scale":{"domain":[-0.0935,0.1107],"nice":false,"zero":false},"axis":null},
  "text":{"field":"t"}}},
{"data":{"name":"romans"},"mark":{"type":"text","font":"Liberation Sans","fontSize":32,"color":"#1a1a1a","align":"center","baseline":"middle"},
 "encoding":{"x":{"field":"s","type":"quantitative","scale":{"domain":[0,252],"nice":false,"zero":false},"axis":null},
  "y":{"field":"sigma","type":"quantitative","scale":{"domain":[-0.0935,0.1107],"nice":false,"zero":false},"axis":null},
  "text":{"field":"t"}}},
{"data":{"name":"nums"},"mark":{"type":"text","font":"Liberation Sans","fontSize":32,"color":"#1a1a1a","align":"center","baseline":"middle"},
 "encoding":{"x":{"field":"s","type":"quantitative","scale":{"domain":[0,252],"nice":false,"zero":false},"axis":null},
  "y":{"field":"sigma","type":"quantitative","scale":{"domain":[-0.0935,0.1107],"nice":false,"zero":false},"axis":null},
  "text":{"field":"t"}}}
]
}
